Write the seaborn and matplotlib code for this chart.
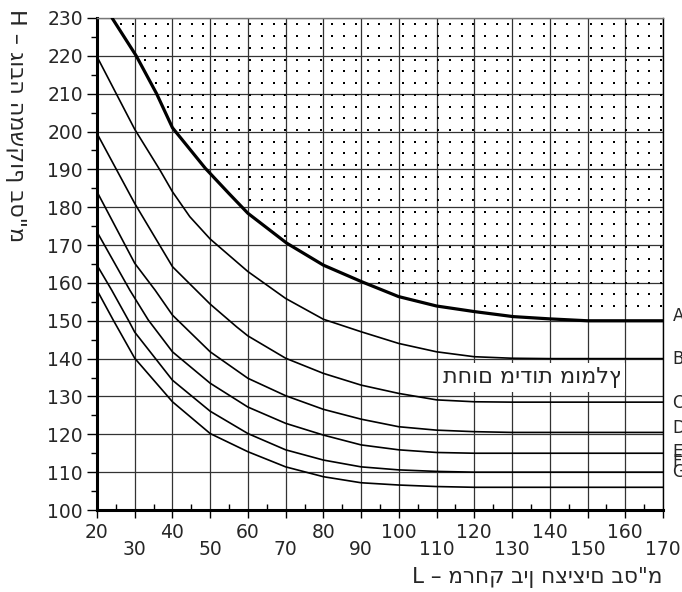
import numpy as np
import pandas as pd
import matplotlib
matplotlib.use("Agg")
import matplotlib.pyplot as plt
import seaborn as sns

# readings: L (cm) -> H (cm) for each curve
a_L = [24, 30.4, 35.8, 40, 48.7, 55, 60, 70.3, 80, 90.2, 99.9, 110, 120.2, 130.3, 140, 150, 170]
a_H = [230, 220, 210, 201, 190.3, 183.6, 178.4, 170.5, 164.7, 160.3, 156.4, 153.9, 152.4, 151.1, 150.5, 150, 150]

b_L = [20, 30, 36.7, 40, 44.6, 50, 60, 70, 80, 90, 100, 110, 120, 130, 140, 170]
b_H = [219.8, 200.6, 189.8, 184.1, 177.5, 171.6, 163, 155.9, 150.4, 147.1, 144, 141.8, 140.5, 140.1, 140, 140]

c_L = [20, 30, 40, 50, 57, 60, 70, 80, 90, 100, 110, 120, 130, 170]
c_H = [199.5, 181, 164.3, 154.4, 148.4, 146, 140.1, 136.1, 133, 130.8, 129.1, 128.6, 128.5, 128.5]

d_L = [20, 30, 35.4, 40, 50, 60, 70, 80, 90, 100, 110, 120, 130, 170]
d_H = [184.1, 165.2, 158.1, 151.5, 141.8, 134.8, 130.2, 126.6, 124, 122, 121.1, 120.7, 120.5, 120.5]

e_L = [20, 28.7, 33.6, 40, 50, 60, 70, 80, 90, 100, 110, 120, 170]
e_H = [173.5, 158.1, 150.2, 141.8, 133.5, 127.2, 122.9, 119.8, 117.2, 115.9, 115.2, 115, 115]

f_L = [20, 23.9, 28.3, 30, 40, 50, 60, 70, 80, 90, 100, 110, 120, 170]
f_H = [164.7, 158.1, 150.2, 147, 134.3, 126.1, 120.2, 115.9, 113.2, 111.4, 110.6, 110.2, 110, 110]

g_L = [20, 24.3, 30, 40, 50, 60, 70, 80, 90, 100, 110, 120, 170]
g_H = [158.1, 150.2, 140.1, 128.6, 120.2, 115.4, 111.4, 108.8, 107.2, 106.6, 106.2, 106, 106]

curve_names = ["A", "B", "C", "D", "E", "F", "G"]
label_H = [151.3, 139.8, 128.2, 121.8, 115.2, 112.7, 110.1]

x_ticks = [20, 30, 40, 50, 60, 70, 80, 90, 100, 110, 120, 130, 140, 150, 160, 170]
y_ticks = [100, 110, 120, 130, 140, 150, 160, 170, 180, 190, 200, 210, 220, 230]

x_title = "L – מרחק בין חציצים בס\"מ"
y_title = "H – גובה המשקוף בס\"מ"
zone_text = "תחום מידות מומלץ"

sns.set_style("white")
plt.rcParams["font.family"] = ["DejaVu Sans"]

fig = plt.figure(figsize=(6.82, 5.92), dpi=100)
ax = fig.add_axes([0.1422, 0.1385, 0.8299, 0.8311])

# dotted texture above curve A
dot_x = np.arange(20.2, 170, 3.11)
dot_y = np.arange(228.3, 150, -3.1)
gx, gy = np.meshgrid(dot_x, dot_y)
keep = gy > np.interp(gx, a_L, a_H) + 1.5
ax.scatter(gx[keep], gy[keep], s=1.4, c="black", marker="s", linewidths=0, zorder=1)

# thin curves B..G
others = [(b_L, b_H), (c_L, c_H), (d_L, d_H), (e_L, e_H), (f_L, f_H), (g_L, g_H)]
df = pd.concat([pd.DataFrame({"L": l, "H": h, "curve": n})
                for n, (l, h) in zip(curve_names[1:], others)])
sns.lineplot(data=df, x="L", y="H", units="curve", estimator=None, sort=False,
             color="black", lw=1.2, ax=ax, zorder=3)
# thick boundary curve A
sns.lineplot(x=a_L, y=a_H, color="black", lw=2.3, sort=False, ax=ax, zorder=4)

for name, h in zip(curve_names, label_H):
    ax.text(172.5, h, name, ha="left", va="center", fontsize=12, clip_on=False)

ax.text(135.3, 135.0, zone_text, ha="center", va="center", fontsize=16, zorder=5,
        bbox=dict(facecolor="white", edgecolor="none", pad=3))

ax.set_xlim(20, 170)
ax.set_ylim(100, 230)
ax.set_xlabel("")
ax.set_ylabel("")

xlabels = [str(v) if i % 2 == 0 else "\n" + str(v) for i, v in enumerate(x_ticks)]
ax.set_xticks(x_ticks, xlabels)
ax.set_yticks(y_ticks)
ax.set_xticks(np.arange(25, 170, 10), minor=True)
ax.set_yticks(np.arange(105, 230, 10), minor=True)
for lbl in ax.get_xticklabels():
    lbl.set_linespacing(0.9)

ax.tick_params(axis="y", which="major", direction="out", length=7, width=1, pad=3, labelsize=13.5)
ax.tick_params(axis="y", which="minor", direction="out", length=4, width=1)
ax.tick_params(axis="x", which="major", direction="out", length=6, width=1, pad=3, labelsize=13.5)
ax.tick_params(axis="x", which="minor", direction="in", length=4, width=1)
ax.tick_params(left=True, bottom=True, which="both", color="black")

ax.grid(which="major", color="#333333", lw=0.9)
ax.set_axisbelow(True)

for side in ["left", "bottom"]:
    ax.spines[side].set_linewidth(2.2)
    ax.spines[side].set_color("black")
ax.spines["top"].set_linewidth(1)
ax.spines["top"].set_color("#777777")
ax.spines["right"].set_linewidth(1)
ax.spines["right"].set_color("black")

fig.text(0.022, 0.985, y_title, rotation=-90, ha="center", va="top", fontsize=16)
fig.text(0.971, 0.024, x_title, ha="right", va="center", fontsize=15.5)

fig.savefig("out.png", dpi=100)
